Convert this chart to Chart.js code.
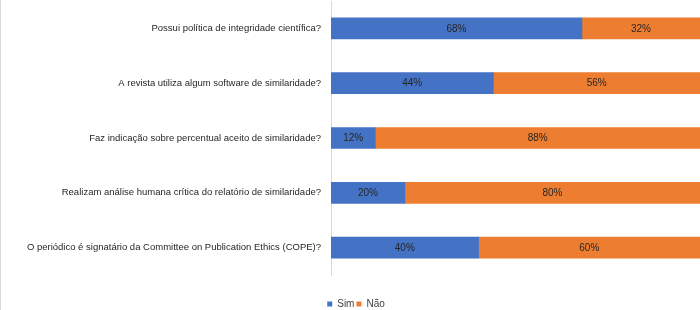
<!DOCTYPE html>
<html>
<head>
<meta charset="utf-8">
<script src="https://cdn.jsdelivr.net/npm/chart.js@4/dist/chart.umd.min.js"></script>
<style>
html,body{margin:0;padding:0;background:#fff;}
#wrap{width:700px;height:310px;position:relative;}
</style>
</head>
<body>
<div id="wrap"><canvas id="c" width="700" height="310"></canvas></div>
<script>
const categories = [
  "Possui política de integridade científica?",
  "A revista utiliza algum software de similaridade?",
  "Faz indicação sobre percentual aceito de similaridade?",
  "Realizam análise humana crítica do relatório de similaridade?",
  "O periódico é signatário da Committee on Publication Ethics (COPE)?"
];
const simValues = [68, 44, 12, 20, 40];
const naoValues = [32, 56, 88, 80, 60];
const seriesNames = ["Sim", "Não"];

const FONT = "'Liberation Sans', Arial, sans-serif";

const valueLabels = {
  id: 'valueLabels',
  afterDatasetsDraw(chart) {
    const ctx = chart.ctx;
    ctx.save();
    ctx.font = '10px ' + FONT;
    ctx.fillStyle = '#262626';
    ctx.textAlign = 'center';
    ctx.textBaseline = 'middle';
    chart.data.datasets.forEach((ds, di) => {
      const meta = chart.getDatasetMeta(di);
      meta.data.forEach((bar, i) => {
        const p = bar.getProps(['x', 'y', 'base'], true);
        const cx = (p.x + p.base) / 2;
        ctx.fillText(ds.data[i] + '%', cx, p.y + 0.5);
      });
    });
    ctx.restore();
  }
};

const frame = {
  id: 'frame',
  beforeDraw(chart) {
    const ctx = chart.ctx;
    ctx.save();
    ctx.fillStyle = '#fff';
    ctx.fillRect(0, 0, chart.width, chart.height);
    ctx.strokeStyle = '#d9d9d9';
    ctx.lineWidth = 1;
    ctx.beginPath();
    ctx.moveTo(0.5, 0);
    ctx.lineTo(0.5, chart.height);
    ctx.stroke();
    ctx.restore();
  }
};

new Chart(document.getElementById('c'), {
  type: 'bar',
  data: {
    labels: categories,
    datasets: [
      { label: seriesNames[0], data: simValues, backgroundColor: '#4472C4', barThickness: 21 },
      { label: seriesNames[1], data: naoValues, backgroundColor: '#ED7D31', barThickness: 21 }
    ]
  },
  options: {
    indexAxis: 'y',
    responsive: false,
    animation: false,
    layout: { padding: { left: 12, right: 0, top: 1, bottom: -9 } },
    scales: {
      x: {
        stacked: true, min: 0, max: 100,
        ticks: { display: false },
        grid: { display: false },
        border: { display: false },
        afterFit(s) { s.height = 22; }
      },
      y: {
        stacked: true,
        grid: { display: false, drawTicks: true, tickLength: 10 },
        border: { display: true, color: '#d9d9d9', width: 1 },
        ticks: { color: '#262626', font: { family: FONT, size: 9.5, lineHeight: 0.01 }, padding: 0 },
        afterFit(s) { s.width = 319; }
      }
    },
    plugins: {
      legend: {
        position: 'bottom',
        labels: {
          boxWidth: 5, boxHeight: 5, padding: 2,
          color: '#404040',
          font: { family: FONT, size: 10 }
        }
      },
      tooltip: { enabled: false }
    }
  },
  plugins: [frame, valueLabels]
});
</script>
</body>
</html>
